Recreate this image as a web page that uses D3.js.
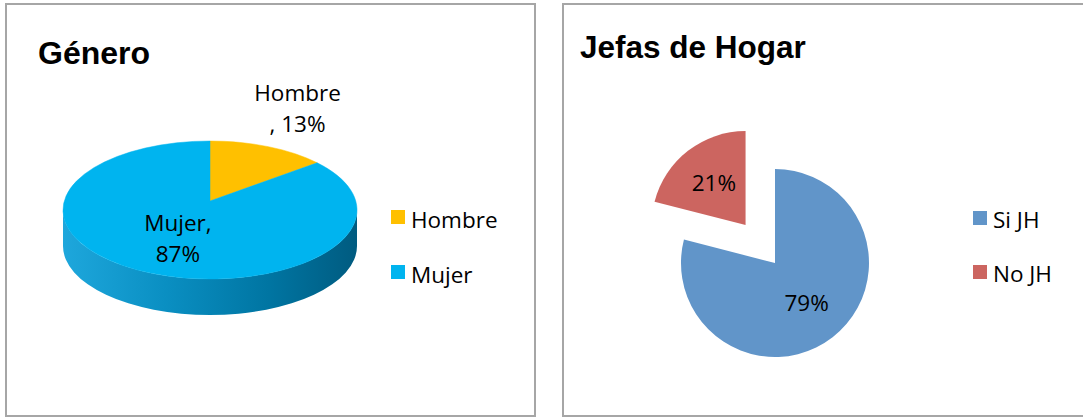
<!DOCTYPE html>
<html>
<head>
<meta charset="utf-8">
<script src="https://cdn.jsdelivr.net/npm/d3@7"></script>
<style>
  body { margin: 0; background: #fff; }
  svg { display: block; }
</style>
</head>
<body>
<div id="chart"></div>
<script>
// --- DATA ---
const generoTitle = "Género";
const generoCats = ["Hombre", "Mujer"];
const generoVals = [13, 87];

const jefasTitle = "Jefas de Hogar";
const jefasCats = ["Si JH", "No JH"];
const jefasVals = [79, 21];

// --- SETUP ---
const width = 1083, height = 419;
const svg = d3.select("#chart").append("svg")
    .attr("width", width)
    .attr("height", height);

const labelFont = "'Open Sans', sans-serif";
const titleFont = "'Liberation Sans', Arial, sans-serif";

// panel frames
svg.append("rect")
    .attr("x", 6).attr("y", 4).attr("width", 529).attr("height", 412)
    .attr("fill", "#fff").attr("stroke", "#a6a6a6").attr("stroke-width", 2);
svg.append("rect")
    .attr("x", 563).attr("y", 4).attr("width", 540).attr("height", 412)
    .attr("fill", "#fff").attr("stroke", "#a6a6a6").attr("stroke-width", 2);

// titles
svg.append("text").attr("x", 38).attr("y", 64)
    .attr("font-family", titleFont).attr("font-weight", "bold").attr("font-size", 32)
    .text(generoTitle);
svg.append("text").attr("x", 580).attr("y", 58)
    .attr("font-family", titleFont).attr("font-weight", "bold").attr("font-size", 31.5)
    .text(jefasTitle);

// --- LEFT: 3D pie ---
const gColor = d3.scaleOrdinal().domain(generoCats).range(["#ffc000", "#00b4ef"]);
const cx = 210, cy = 210, rx = 147, ry = 69, depth = 36;
const apex = [210, 201];   // perspective: slice tip sits above ellipse centre

const ellPt = a => [cx + rx * Math.sin(a), cy - ry * Math.cos(a)];

const defs = svg.append("defs");
const sideGrad = defs.append("linearGradient")
    .attr("id", "sideGrad")
    .attr("gradientUnits", "userSpaceOnUse")
    .attr("x1", cx - rx).attr("x2", cx + rx).attr("y1", 0).attr("y2", 0);
[["0%", "#1ea7dc"], ["35%", "#0a8fc2"], ["70%", "#0075a2"], ["100%", "#005b80"]]
    .forEach(s => sideGrad.append("stop").attr("offset", s[0]).attr("stop-color", s[1]));

const gPie = d3.pie().sort(null).value(d => d)(generoVals);
const left = svg.append("g");

// side walls (front half only, pi/2 .. 3pi/2)
gPie.forEach((d, i) => {
    const s = Math.max(d.startAngle, Math.PI / 2);
    const e = Math.min(d.endAngle, 3 * Math.PI / 2);
    if (e <= s) return;
    const p0 = ellPt(s), p1 = ellPt(e);
    const large = (e - s) > Math.PI ? 1 : 0;
    const path = `M${p0[0]},${p0[1]} A${rx},${ry} 0 ${large} 1 ${p1[0]},${p1[1]}`
        + ` L${p1[0]},${p1[1] + depth} A${rx},${ry} 0 ${large} 0 ${p0[0]},${p0[1] + depth} Z`;
    left.append("path")
        .attr("d", path)
        .attr("fill", i === 1 ? "url(#sideGrad)" : d3.color(gColor(generoCats[i])).darker(0.8));
});

// top faces
gPie.forEach((d, i) => {
    const p0 = ellPt(d.startAngle), p1 = ellPt(d.endAngle);
    const large = (d.endAngle - d.startAngle) > Math.PI ? 1 : 0;
    left.append("path")
        .attr("d", `M${apex[0]},${apex[1]} L${p0[0]},${p0[1]} A${rx},${ry} 0 ${large} 1 ${p1[0]},${p1[1]} Z`)
        .attr("fill", gColor(generoCats[i]))
        .attr("stroke", gColor(generoCats[i]))
        .attr("stroke-width", 0.5);
});

// labels "Cat, NN%"
const gLabelK = [1.5, 0.55];
gPie.forEach((d, i) => {
    const mid = (d.startAngle + d.endAngle) / 2;
    const x = apex[0] + rx * gLabelK[i] * Math.sin(mid);
    const y = apex[1] - ry * gLabelK[i] * Math.cos(mid);
    const t = left.append("text")
        .attr("text-anchor", "middle")
        .attr("font-family", labelFont).attr("font-size", 22.5)
        .attr("fill", "#000");
    const parts = i === 0 ? [generoCats[i], ", " + generoVals[i] + "%"]
                          : [generoCats[i] + ",", generoVals[i] + "%"];
    t.append("tspan").attr("x", x).attr("y", y - 5).text(parts[0]);
    t.append("tspan").attr("x", x).attr("y", y + 26).text(parts[1]);
});

// legend
const gLeg = svg.append("g").attr("transform", "translate(391,210)");
generoCats.forEach((c, i) => {
    gLeg.append("rect").attr("x", 0).attr("y", i * 55).attr("width", 14).attr("height", 14)
        .attr("fill", gColor(c));
    gLeg.append("text").attr("x", 20).attr("y", i * 55 + 18)
        .attr("font-family", labelFont).attr("font-size", 22.5).text(c);
});

// --- RIGHT: exploded pie ---
const jColor = d3.scaleOrdinal().domain(jefasCats).range(["#6195c9", "#cc6560"]);
const jc = [775, 263], jr = 94, explode = 48;
const jPie = d3.pie().sort(null).value(d => d)(jefasVals);
const arc = d3.arc().innerRadius(0).outerRadius(jr);
const labelArc = d3.arc().innerRadius(jr * 0.55).outerRadius(jr * 0.55);

const right = svg.append("g").attr("transform", `translate(${jc[0]},${jc[1]})`);
jPie.forEach((d, i) => {
    const mid = (d.startAngle + d.endAngle) / 2;
    const off = i === 1 ? explode : 0;
    const dx = off * Math.sin(mid), dy = -off * Math.cos(mid);
    const g = right.append("g").attr("transform", `translate(${dx},${dy})`);
    g.append("path").attr("d", arc(d)).attr("fill", jColor(jefasCats[i]));
    const c = labelArc.centroid(d);
    g.append("text")
        .attr("x", c[0]).attr("y", c[1])
        .attr("dy", "0.3em")
        .attr("text-anchor", "middle")
        .attr("font-family", labelFont).attr("font-size", 22.5)
        .text(jefasVals[i] + "%");
});

const jLeg = svg.append("g").attr("transform", "translate(973,211)");
jefasCats.forEach((c, i) => {
    jLeg.append("rect").attr("x", 0).attr("y", i * 54).attr("width", 14).attr("height", 14)
        .attr("fill", jColor(c));
    jLeg.append("text").attr("x", 20).attr("y", i * 54 + 17)
        .attr("font-family", labelFont).attr("font-size", 22.5).text(c);
});
</script>
</body>
</html>
